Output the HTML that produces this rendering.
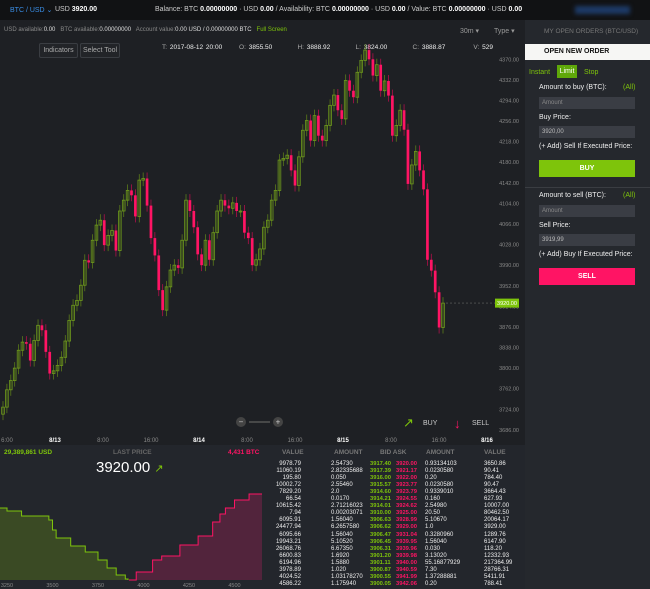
<!DOCTYPE html>
<html><head><meta charset="utf-8"><style>
*{margin:0;padding:0;box-sizing:border-box}
body{width:650px;height:589px;overflow:hidden;background:#1e2024;font-family:"Liberation Sans",sans-serif;color:#ccc;position:relative}
.a{position:absolute;white-space:nowrap}
.b{font-weight:bold;color:#fff}
.g{color:#7ec40b}.r{color:#ff1464}
.btn{position:absolute;border:1px solid #3a3d42;border-radius:2px;font-size:7px;color:#aaa;text-align:center;line-height:14px;background:#222428}
.fld{position:absolute;left:539px;width:96px;height:12px;background:#3a3d44;font-size:6px;color:#888;padding-left:3px;line-height:12px}
.ft{position:absolute;left:539px;font-size:7px;color:#eee}
</style></head><body>
<div class="a" style="left:0;top:0;width:650px;height:20px;background:#111214"></div>
<div class="a" style="left:10px;top:6px;font-size:7px;color:#3a8ee6">BTC / USD ⌄</div>
<div class="a" style="left:55px;top:6px;font-size:7px">USD <b class="b">3920.00</b></div>
<div class="a" style="left:155px;top:6px;font-size:7px">Balance: BTC <b class="b">0.00000000</b> · USD <b class="b">0.00</b> / Availability: BTC <b class="b">0.00000000</b> · USD <b class="b">0.00</b> / Value: BTC <b class="b">0.00000000</b> · USD <b class="b">0.00</b></div>
<div class="a" style="left:575px;top:6px;width:55px;height:8px;background:#1d3a66;filter:blur(2px)"></div>
<div class="a" style="left:4px;top:27px;font-size:6px;color:#888">USD available:<span style="color:#ddd">0.00</span> &nbsp; BTC available:<span style="color:#ddd">0.00000000</span> &nbsp; Account value:<span style="color:#ddd">0.00 USD / 0.00000000 BTC</span> &nbsp; <span class="g">Full Screen</span></div>
<div class="a" style="left:460px;top:27px;font-size:7px;color:#999">30m ▾</div>
<div class="a" style="left:494px;top:27px;font-size:7px;color:#999">Type ▾</div>
<div class="btn" style="left:39px;top:43px;width:39px;height:15px">Indicators</div>
<div class="btn" style="left:80px;top:43px;width:40px;height:15px">Select Tool</div>
<div class="a" style="left:162px;top:44px;font-size:6.5px;color:#aaa;word-spacing:1px">T: <span style="color:#eee">2017-08-12 20:00</span>&nbsp;&nbsp;&nbsp;&nbsp;&nbsp; O: <span style="color:#eee">3855.50</span>&nbsp;&nbsp;&nbsp;&nbsp;&nbsp;&nbsp;&nbsp;&nbsp; H: <span style="color:#eee">3888.92</span>&nbsp;&nbsp;&nbsp;&nbsp;&nbsp;&nbsp;&nbsp;&nbsp; L: <span style="color:#eee">3824.00</span>&nbsp;&nbsp;&nbsp;&nbsp;&nbsp;&nbsp;&nbsp;&nbsp; C: <span style="color:#eee">3888.87</span>&nbsp;&nbsp;&nbsp;&nbsp;&nbsp;&nbsp;&nbsp;&nbsp;&nbsp; V: <span style="color:#eee">529</span></div>

<svg class="a" id="cs" style="left:0;top:0" width="525" height="448"></svg>

<div class="a" style="left:525px;top:20px;width:125px;height:569px;background:#25282d"></div>
<div class="a" style="left:544px;top:28px;font-size:6.5px;color:#777">MY OPEN ORDERS (BTC/USD)</div>
<div class="a" style="left:525px;top:44px;width:125px;height:16px;background:#f6f6f4;color:#111;font-size:7px;font-weight:bold;padding:4px 0 0 19px">OPEN NEW ORDER</div>
<div class="a g" style="left:529px;top:69px;font-size:7px">Instant</div>
<div class="a" style="left:557px;top:65px;width:20px;height:13px;background:#5fa80a;color:#fff;font-size:7px;text-align:center;line-height:13px">Limit</div>
<div class="a g" style="left:584px;top:69px;font-size:7px">Stop</div>
<div class="ft" style="top:84px">Amount to buy (BTC):</div>
<div class="a g" style="left:623px;top:84px;font-size:7px">(All)</div>
<div class="fld" style="top:97px">Amount</div>
<div class="ft" style="top:114px">Buy Price:</div>
<div class="fld" style="top:126px;color:#bbb">3920,00</div>
<div class="ft" style="top:143px">(+ Add) Sell If Executed Price:</div>
<div class="a" style="left:539px;top:160px;width:96px;height:17px;background:#7ec40b;color:#fff;font-size:7px;font-weight:bold;text-align:center;line-height:17px">BUY</div>
<div class="a" style="left:525px;top:187px;width:125px;height:1px;background:#3a3d42"></div>
<div class="ft" style="top:192px">Amount to sell (BTC):</div>
<div class="a g" style="left:623px;top:192px;font-size:7px">(All)</div>
<div class="fld" style="top:205px">Amount</div>
<div class="ft" style="top:222px">Sell Price:</div>
<div class="fld" style="top:234px;color:#bbb">3919,99</div>
<div class="ft" style="top:251px">(+ Add) Buy If Executed Price:</div>
<div class="a" style="left:539px;top:268px;width:96px;height:17px;background:#ff1464;color:#fff;font-size:7px;font-weight:bold;text-align:center;line-height:17px">SELL</div>

<div class="a" style="left:0;top:445px;width:525px;height:144px;background:#23262c"></div>
<div class="a g" style="left:4px;top:449px;font-size:6.5px;font-weight:bold">29,389,861 USD</div>
<div class="a" style="left:113px;top:449px;font-size:6.5px;color:#666;font-weight:bold">LAST PRICE</div>
<div class="a r" style="left:228px;top:449px;font-size:6.5px;font-weight:bold">4,431 BTC</div>
<div class="a" style="left:96px;top:459px;font-size:15px;color:#fff">3920.00 <span class="g" style="font-size:11px">↗</span></div>
<svg class="a" id="dp" style="left:0;top:445px" width="262" height="144"></svg>
<div class="a" id="ob" style="left:262px;top:445px;width:263px;height:144px;font-size:6px;color:#eee"></div>

<script>
const closes=[3728,3760,3777,3800,3833,3848,3845,3814,3851,3879,3870,3830,3790,3795,3805,3820,3850,3888,3916,3925,3953,3999,3995,4036,4064,4073,4027,4045,4054,4017,4090,4110,4128,4119,4080,4147,4150,4100,4040,4008,3944,3907,3950,3981,3990,3985,4036,4110,4090,4060,4010,3990,4036,4000,4050,4090,4110,4100,4095,4105,4090,4090,4050,4040,3990,4000,4020,4060,4073,4110,4128,4184,4187,4193,4165,4137,4190,4239,4257,4220,4266,4229,4220,4248,4285,4304,4276,4260,4331,4312,4300,4346,4368,4387,4370,4340,4360,4312,4330,4303,4229,4248,4276,4240,4140,4175,4200,4165,4130,4000,3980,3940,3875,3920];
const firstOpen=3715;
const yTicks=[4370,4332,4294,4256,4218,4180,4142,4104,4066,4028,3990,3952,3914,3876,3838,3800,3762,3724,3686];
const xLabels=["6:00","8/13","8:00","16:00","8/14","8:00","16:00","8/15","8:00","16:00","8/16"];
const xLabelBold=[0,1,0,0,1,0,0,1,0,0,1];
const lastPrice=3920;
const NS="http://www.w3.org/2000/svg";
function py(p){return 59.3+(4370-p)*0.5418;}
function cx(i){return 3+i*(440/(closes.length-1));}
const cs=document.getElementById('cs');
function mk(svg,tag,at){const e=document.createElementNS(NS,tag);for(const k in at)e.setAttribute(k,at[k]);svg.appendChild(e);return e;}
yTicks.forEach(t=>{const e=mk(cs,'text',{x:519,y:py(t)+2,'font-size':5.5,fill:'#888','text-anchor':'end'});e.textContent=t.toFixed(2);

});
xLabels.forEach((l,i)=>{const e=mk(cs,'text',{x:7+i*48,y:442,'font-size':6,fill:xLabelBold[i]?'#fff':'#888','font-weight':xLabelBold[i]?'bold':'normal','text-anchor':'middle'});e.textContent=l;

});
const bw=Math.max(2,440/(closes.length-1)-1.2);
closes.forEach((c,i)=>{const o=i?closes[i-1]:firstOpen;const up=c>=o;const col=up?'#6e9a1c':'#ff1464';
const x=cx(i);const top=py(Math.max(o,c)),bot=py(Math.min(o,c));
const w=mk(cs,'line',{x1:x,x2:x,y1:top-6,y2:bot+6,stroke:up?'#5a7a1a':'#b0104a','stroke-width':0.8});


const r=mk(cs,'rect',{x:x-bw/2,y:top,width:bw,height:Math.max(1,bot-top),fill:up?'none':col,stroke:up?col:'none','stroke-width':0.8});

});
const pl=mk(cs,'line',{x1:cx(closes.length-1)+3,x2:495,y1:py(lastPrice),y2:py(lastPrice),stroke:'#666','stroke-dasharray':'2,2','stroke-width':0.6});


const pr=mk(cs,'rect',{x:495,y:py(lastPrice)-4.5,width:24,height:9,fill:'#7ec40b'});


const pt=mk(cs,'text',{x:507,y:py(lastPrice)+2,'font-size':5.5,fill:'#fff','text-anchor':'middle'});pt.textContent=lastPrice.toFixed(2);


cs.insertAdjacentHTML('beforeend','<g><circle cx="241" cy="422" r="5" fill="#444"/><text x="241" y="424.5" font-size="8" fill="#ccc" text-anchor="middle">−</text><line x1="249" y1="422" x2="270" y2="422" stroke="#555" stroke-width="1.5"/><circle cx="278" cy="422" r="5" fill="#444"/><text x="278" y="424.5" font-size="8" fill="#ccc" text-anchor="middle">+</text></g><g><text x="403" y="427" font-size="13" fill="#7ec40b">↗</text><text x="423" y="425" font-size="7" fill="#ccc">BUY</text></g><g><text x="454" y="428" font-size="13" fill="#ff1464">↓</text><text x="472" y="425" font-size="7" fill="#ccc">SELL</text></g>');

const bidPrices=[3200,3250,3330,3480,3500,3520,3600,3680,3750,3800,3850,3900,3915];
const bidVol=[72,69,64,60,50,42,34,28,20,12,5,1,0];
const askPrices=[3920,3960,4050,4100,4200,4300,4380,4420,4450,4500,4580];
const askVol=[0,8,20,24,35,44,58,66,72,80,86];
const depthTicks=[3250,3500,3750,4000,4250,4500];
const dp=document.getElementById('dp');
function dx(p){return 7+(p-3250)*45.5/250;}
function dy(v){return 135-v;}
function stepPath(ps,vs){let d='M'+dx(ps[0])+','+dy(vs[0]);for(let i=1;i<ps.length;i++){d+=' L'+dx(ps[i])+','+dy(vs[i-1])+' L'+dx(ps[i])+','+dy(vs[i]);}return d;}
const bd=stepPath(bidPrices,bidVol),ad=stepPath(askPrices,askVol);
const bf=mk(dp,'path',{d:bd+' L'+dx(bidPrices[bidPrices.length-1])+',135 L0,135 L0,'+dy(bidVol[0])+' Z',fill:'#3a4a24'});


const bl=mk(dp,'path',{d:bd,fill:'none',stroke:'#7ec40b','stroke-width':1});


const af=mk(dp,'path',{d:ad+' L262,'+dy(askVol[askVol.length-1])+' L262,135 L'+dx(askPrices[0])+',135 Z',fill:'#52243c'});


const al=mk(dp,'path',{d:ad+' L262,'+dy(askVol[askVol.length-1]),fill:'none',stroke:'#ff1464','stroke-width':1});


depthTicks.forEach(t=>{const e=mk(dp,'text',{x:dx(t),y:142,'font-size':5.5,fill:'#888','text-anchor':'middle'});e.textContent=t;

});

const bidValue=["9978.79","11060.19","195.80","10002.72","7829.20","66.54","10615.42","7.94","6095.91","24477.94","6095.66","19943.21","26068.76","6600.83","6194.96","3978.89","4024.52","4586.22"];
const bidAmt=["2.54730","2.82335688","0.050","2.55460","2.0","0.0170","2.71216023","0.00203071","1.56040","6.2657580","1.56040","5.10520","6.67350","1.6920","1.5880","1.020","1.03178270","1.175940"];
const bidPx=["3917.40","3917.39","3916.00","3915.57","3914.60","3914.21","3914.01","3910.00","3906.63","3906.62","3906.47","3906.45","3906.31","3901.20","3901.11","3900.87","3900.55","3900.05"];
const askPx=["3920.00","3921.17","3922.00","3923.77","3923.79","3924.55","3924.62","3925.00","3928.99","3929.00","3931.04","3939.95","3939.96","3939.98","3940.00","3940.59","3941.99","3942.06"];
const askAmt=["0.93134103","0.0230580","0.20","0.0230580","0.9339010","0.160","2.54980","20.50","5.10670","1.0","0.3280960","1.56040","0.030","3.13020","55.16877929","7.30","1.37288881","0.20"];
const askValue=["3650.86","90.41","784.40","90.47","3664.43","627.93","10007.00","80462.50","20064.17","3929.00","1289.76","6147.90","118.20","12332.93","217364.99","28766.31","5411.91","788.41"];
const ob=document.getElementById('ob');
let h='<div class="a" style="left:0;top:4px;width:263px;font-size:6.5px;color:#777;font-weight:bold"><span class="a" style="left:20px">VALUE</span><span class="a" style="left:72px">AMOUNT</span><span class="a" style="left:118px">BID ASK</span><span class="a" style="left:164px">AMOUNT</span><span class="a" style="left:222px">VALUE</span></div>';
for(let i=0;i<bidValue.length;i++){const y=16+i*7.05;
h+='<div class="a" style="left:0;top:'+y+'px;width:263px;height:7px"><span class="a" style="right:224px">'+bidValue[i]+'</span><span class="a" style="left:69px">'+bidAmt[i]+'</span><span class="a g" style="left:108px;font-size:5.8px;font-weight:bold">'+bidPx[i]+'</span><span class="a r" style="left:134px;font-size:5.8px;font-weight:bold">'+askPx[i]+'</span><span class="a" style="left:163px">'+askAmt[i]+'</span><span class="a" style="left:222px">'+askValue[i]+'</span></div>';}
ob.innerHTML=h;
</script>
</body></html>
